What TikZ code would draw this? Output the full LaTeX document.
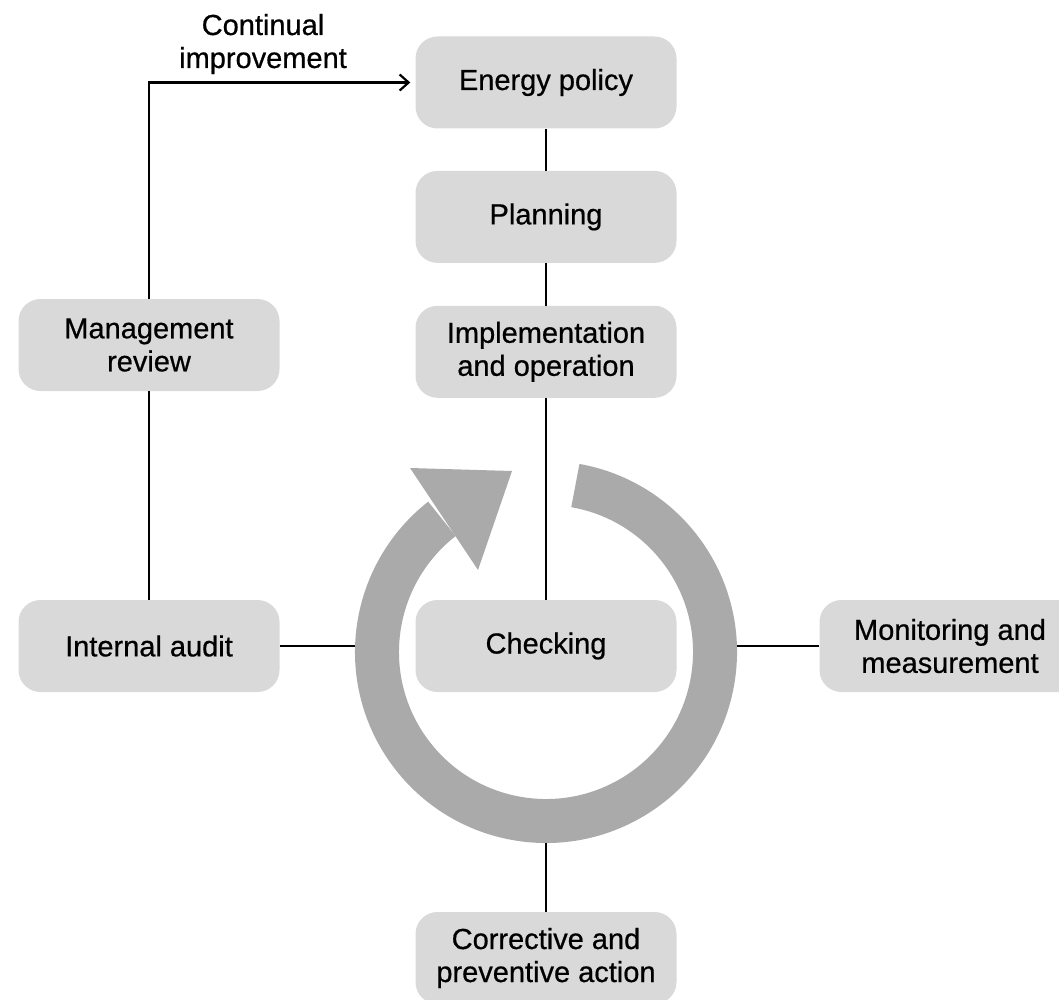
\documentclass[tikz,border=0pt]{standalone}
\usepackage{fontspec}
\setmainfont{Liberation Sans}[FakeBold=0.6]
\usepackage{tikz}
\usetikzlibrary{arrows.meta}
\usetikzlibrary{positioning}
\definecolor{boxgray}{RGB}{217, 217, 217}
\definecolor{ringgray}{RGB}{170, 170, 170}

\begin{document}
\begin{tikzpicture}[x=1pt, y=-1pt,
    stage/.style={fill=boxgray, rounded corners=22pt, minimum width=261pt, minimum height=92pt, inner sep=0pt, align=center, font=\fontsize{29}{33}\selectfont},
    note/.style={align=center, inner sep=0pt, font=\fontsize{29}{33}\selectfont},
    link/.style={black, line width=2.2pt},
    ringarc/.style={ringgray, line width=44pt}]
  \useasboundingbox (0, 0) rectangle (1059, 1000);

  \node [stage] (policy) at (546, 82.5) {Energy policy};
  \node [stage, below=42pt of policy] (planning) {Planning};
  \node [stage, below=42.5pt of planning] (impl) {Implementation\\and operation};
  \node [stage] (review) at (149, 345) {Management\\review};
  \node [stage] (audit) at (149, 646) {Internal audit};
  \node [stage] (check) at (546, 646) {Checking};
  \node [stage] (monitor) at (950, 646) {Monitoring and\\measurement};
  \node [stage] (action) at (546, 958) {Corrective and\\preventive action};
  \node [note] (cont) at (263, 44) {Continual\\improvement};

  % the loop round checking
  \coordinate (hub) at (546, 652);
  \draw [ringarc] (hub) ++(-80:169) arc [start angle=-80, end angle=232, radius=169];
  \fill [ringgray] (410, 468) -- (512, 471) -- (478, 570) -- cycle;
  \coordinate (ringW) at (355, 646);
  \coordinate (ringE) at (737, 646);
  \coordinate (ringS) at (546, 843);

  \draw [link] (policy) -- (planning);
  \draw [link] (planning) -- (impl);
  \draw [link] (impl) -- (check);
  \draw [link] (review) -- (audit);
  \draw [link, -{Straight Barb[length=9pt, width=16pt]}, shorten >=5pt] (review.north) |- (policy.west);
  \draw [link] (audit) -- (ringW);
  \draw [link] (ringE) -- (monitor);
  \draw [link] (ringS) -- (action);
\end{tikzpicture}
\end{document}
